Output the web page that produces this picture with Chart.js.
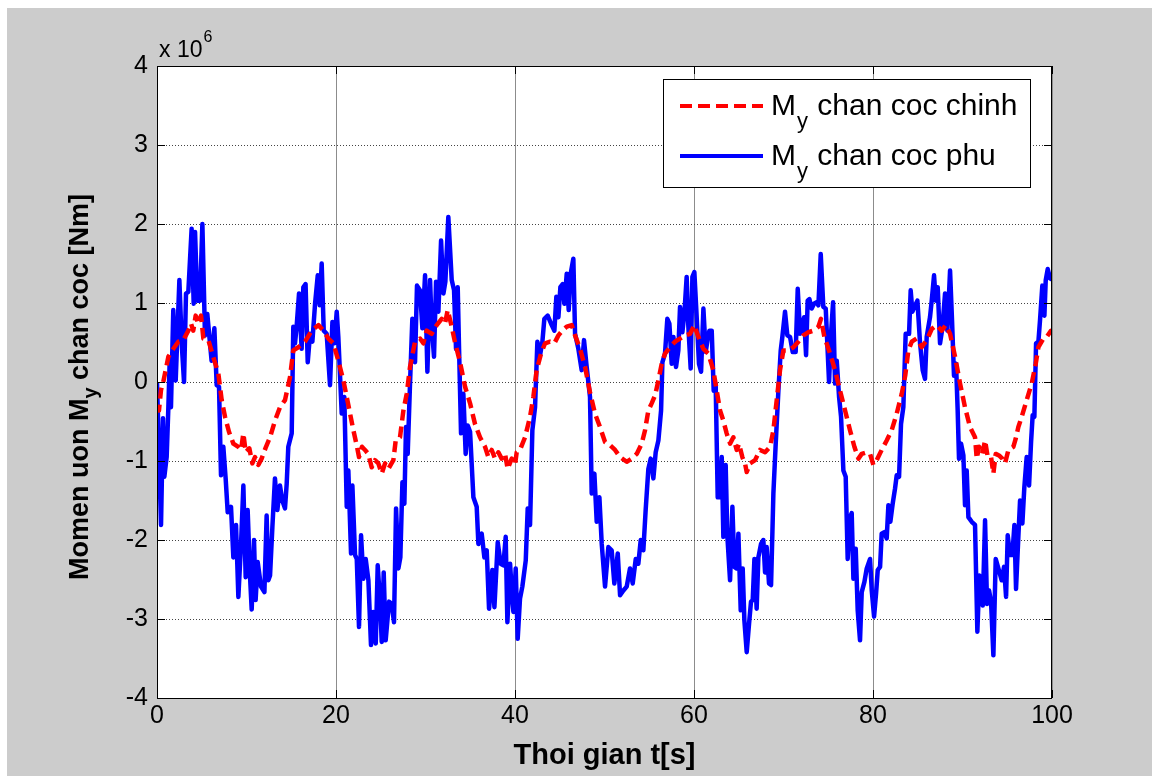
<!DOCTYPE html>
<html>
<head>
<meta charset="utf-8">
<script src="https://cdn.jsdelivr.net/npm/chart.js@4.4.1/dist/chart.umd.min.js"></script>
<style>
  html, body { margin: 0; padding: 0; background: #fff; }
  #wrap { width: 1159px; height: 776px; }
</style>
</head>
<body>
<div id="wrap"><canvas id="momentChart" width="1159" height="776"></canvas></div>
<script>
// thoi gian [s], moment [x 10^6 Nm]
const chinhPoints = [
  [0,-0.3],[0.22,-0.36],[0.45,-0.1],[0.7,0.0],[1.27,0.32],[1.82,0.42],[2.38,0.51],[2.94,0.53],[3.5,0.65],[3.8,0.74],
  [4.05,0.65],[4.32,0.84],[4.6,0.74],[4.92,0.84],[5.18,0.55],[5.74,0.53],[6.41,0.27],[6.85,0.11],[7.23,-0.23],[7.6,-0.44],
  [8.04,-0.63],[8.53,-0.78],[9.09,-0.82],[9.39,-0.86],[9.65,-0.65],[9.91,-0.89],[10.32,-0.84],[10.65,-1.03],[10.95,-0.95],[11.32,-1.05],
  [11.69,-0.97],[12.18,-0.82],[12.63,-0.7],[13.18,-0.49],[13.74,-0.32],[14.3,-0.23],[14.86,0.06],[15.23,0.4],[15.79,0.44],[16.35,0.49],
  [16.54,0.51],[17.28,0.65],[18.03,0.72],[18.59,0.65],[19.15,0.55],[19.7,0.49],[20.26,0.27],[20.82,0.02],[21.2,-0.19],[21.57,-0.4],
  [21.94,-0.61],[22.31,-0.8],[22.57,-0.95],[22.9,-0.82],[23.24,-0.86],[23.6,-0.91],[23.99,-1.08],[24.36,-0.99],[24.73,-1.03],[25.11,-1.16],
  [25.48,-1.03],[25.85,-1.1],[26.41,-0.99],[26.67,-0.74],[27.15,-0.7],[27.53,-0.36],[27.9,-0.15],[28.27,0.19],[28.83,0.51],[29.39,0.55],
  [29.76,0.49],[30.13,0.65],[30.69,0.61],[31.25,0.72],[31.81,0.8],[32.18,0.74],[32.48,0.91],[32.93,0.7],[33.3,0.5],[33.86,0.25],
  [34.42,-0.06],[34.98,-0.27],[35.53,-0.53],[36.09,-0.7],[36.65,-0.82],[37.02,-0.95],[37.4,-0.86],[37.77,-0.97],[38.14,-0.89],[38.51,-0.97],
  [38.89,-0.91],[39.18,-1.1],[39.63,-0.97],[40.0,-1.05],[40.19,-0.89],[40.56,-0.86],[41.12,-0.7],[41.68,-0.44],[42.05,-0.19],[42.42,0.15],
  [42.91,0.36],[43.36,0.49],[43.91,0.51],[44.4,0.49],[44.85,0.59],[45.29,0.65],[45.78,0.7],[46.34,0.72],[46.71,0.59],[47.27,0.42],
  [47.83,0.19],[48.38,-0.13],[48.94,-0.4],[49.5,-0.57],[50.06,-0.76],[50.62,-0.8],[51.18,-0.86],[51.74,-0.95],[52.48,-1.01],[53.04,-0.97],
  [53.6,-0.91],[54.16,-0.78],[54.53,-0.61],[54.9,-0.36],[55.27,-0.27],[55.65,-0.17],[56.02,0.02],[56.39,0.23],[56.76,0.36],[57.32,0.44],
  [57.88,0.51],[58.44,0.55],[59.0,0.59],[59.56,0.61],[60.04,0.72],[60.49,0.57],[61.05,0.42],[61.6,0.36],[62.16,0.15],[62.54,-0.11],
  [62.91,-0.36],[63.28,-0.49],[63.65,-0.65],[64.03,-0.78],[64.4,-0.7],[64.77,-0.86],[65.03,-0.78],[65.4,-0.95],[65.7,-1.03],[65.89,-1.14],
  [66.26,-1.03],[66.82,-0.99],[67.38,-0.86],[67.94,-0.89],[68.5,-0.82],[68.87,-0.61],[69.24,-0.23],[69.61,0.15],[69.99,0.4],[70.54,0.4],
  [71.1,0.44],[71.66,0.51],[72.22,0.59],[72.78,0.63],[73.34,0.65],[73.9,0.7],[74.19,0.8],[74.57,0.57],[75.2,0.36],[75.76,0.15],
  [76.32,-0.11],[76.88,-0.36],[77.43,-0.61],[77.92,-0.82],[78.37,-0.97],[78.74,-0.91],[79.3,-0.89],[79.67,-0.91],[80.04,-1.05],[80.41,-0.99],
  [80.97,-0.86],[81.53,-0.74],[82.09,-0.61],[82.65,-0.4],[83.21,-0.15],[83.6,0.08],[83.95,0.4],[84.33,0.51],[84.88,0.55],[85.44,0.44],
  [86.0,0.53],[86.56,0.67],[87.12,0.72],[87.68,0.65],[88.12,0.72],[88.61,0.61],[89.17,0.32],[89.73,-0.02],[90.28,-0.32],[90.84,-0.57],
  [91.4,-0.7],[91.59,-0.97],[91.85,-0.82],[92.22,-0.91],[92.52,-0.74],[92.82,-0.95],[93.19,-0.95],[93.45,-1.16],[93.71,-0.91],[94.08,-0.93],
  [94.45,-0.97],[94.75,-1.03],[95.13,-0.86],[95.68,-0.82],[95.94,-0.72],[96.24,-0.57],[96.62,-0.44],[97.17,-0.23],[97.73,-0.02],[98.18,0.23],
  [98.48,0.44],[99.04,0.55],[99.41,0.57],[99.9,0.65],[100,0.65]
];

const phuPoints = [
  [0,0.0],[0.45,-1.81],[0.67,-0.46],[0.82,-1.2],[1.08,-0.95],[1.27,-0.32],[1.42,0.27],[1.56,-0.32],[1.82,0.91],[2.09,0.02],
  [2.5,1.29],[2.76,0.49],[3.02,0.0],[3.24,1.12],[3.5,1.14],[3.87,1.94],[4.1,0.99],[4.25,1.9],[4.5,1.03],[4.8,1.03],
  [5.07,2.0],[5.36,0.59],[5.62,0.86],[6.1,0.27],[6.41,0.68],[6.67,-0.04],[6.93,-0.06],[7.15,-1.18],[7.41,-0.82],[7.67,-1.22],
  [7.9,-1.65],[8.27,-1.58],[8.53,-2.22],[8.83,-1.81],[9.09,-2.72],[9.39,-2.05],[9.65,-1.31],[9.91,-2.47],[10.13,-1.62],[10.39,-2.45],
  [10.58,-2.88],[10.84,-2.0],[11.02,-2.76],[11.25,-2.28],[11.62,-2.59],[12.0,-2.66],[12.25,-1.69],[12.44,-2.51],[12.63,-2.45],[12.89,-1.84],
  [13.18,-1.22],[13.45,-1.62],[13.74,-1.31],[14.0,-1.5],[14.3,-1.6],[14.49,-1.29],[14.67,-0.82],[15.05,-0.65],[15.23,0.7],[15.42,0.49],
  [15.6,0.7],[15.87,1.12],[16.16,0.42],[16.35,1.2],[16.6,1.24],[16.84,0.25],[17.1,0.61],[17.36,0.51],[17.66,0.99],[17.96,1.35],
  [18.18,0.97],[18.4,1.5],[18.63,0.65],[18.96,0.61],[19.33,-0.04],[19.6,0.76],[19.82,0.49],[20.08,0.89],[20.26,0.57],[20.64,-0.4],
  [20.93,-0.19],[21.2,-1.58],[21.38,-1.12],[21.68,-2.17],[21.83,-1.31],[22.13,-2.19],[22.32,-2.24],[22.57,-3.1],[22.8,-1.94],[23.06,-2.49],
  [23.32,-2.24],[23.62,-2.51],[23.91,-3.33],[24.17,-2.91],[24.44,-3.31],[24.66,-2.32],[24.92,-2.78],[25.11,-3.29],[25.33,-2.41],[25.55,-3.27],
  [25.93,-2.78],[26.22,-2.81],[26.48,-3.04],[26.71,-1.6],[26.97,-2.36],[27.19,-2.22],[27.42,-1.27],[27.64,-1.54],[27.82,-0.57],[28.01,-0.91],
  [28.27,-0.02],[28.53,0.8],[28.83,0.25],[29.05,1.22],[29.39,1.16],[29.65,0.68],[29.95,1.35],[30.21,0.13],[30.51,1.29],[30.69,0.72],
  [30.95,0.32],[31.18,1.27],[31.44,0.89],[31.74,1.79],[32.0,1.12],[32.22,1.27],[32.55,2.09],[32.93,1.29],[33.19,1.16],[33.41,0.42],
  [33.6,1.2],[33.75,0.42],[33.97,-0.65],[34.23,-0.15],[34.49,-0.91],[34.72,-0.55],[34.98,-0.63],[35.35,-1.46],[35.72,-1.58],[35.91,-2.05],
  [36.28,-1.92],[36.58,-2.22],[36.84,-2.13],[37.1,-2.87],[37.47,-2.38],[37.7,-2.85],[38.07,-2.03],[38.4,-2.3],[38.7,-2.32],[38.96,-1.96],
  [39.15,-3.04],[39.45,-2.3],[39.63,-2.64],[39.82,-2.91],[40.08,-2.36],[40.3,-3.25],[40.56,-2.74],[40.82,-2.59],[41.2,-2.26],[41.42,-1.6],
  [41.68,-1.81],[41.94,-0.61],[42.24,-0.32],[42.5,0.51],[42.8,0.34],[43.06,0.51],[43.28,0.8],[43.65,0.84],[44.1,0.72],[44.4,0.65],
  [44.62,1.08],[44.85,0.82],[45.07,1.2],[45.33,1.24],[45.52,0.99],[45.78,1.37],[46.0,0.91],[46.22,1.37],[46.52,1.56],[46.71,0.61],
  [47.08,0.42],[47.45,0.15],[47.71,0.53],[48.01,0.19],[48.38,-0.19],[48.57,-1.41],[48.87,-1.16],[49.13,-1.77],[49.43,-1.46],[49.69,-2.05],
  [50.06,-2.59],[50.43,-2.09],[50.8,-2.13],[51.1,-2.55],[51.48,-2.17],[51.74,-2.7],[52.11,-2.64],[52.48,-2.59],[52.85,-2.36],[53.15,-2.55],
  [53.49,-2.24],[53.78,-2.3],[54.05,-2.0],[54.34,-2.13],[54.6,-1.62],[54.9,-1.1],[55.16,-0.97],[55.46,-1.22],[55.72,-0.89],[56.02,-0.74],
  [56.32,-0.36],[56.47,0.25],[56.76,0.36],[57.02,0.8],[57.25,0.74],[57.51,0.23],[57.7,0.57],[57.99,0.19],[58.25,0.4],[58.44,0.95],
  [58.7,0.63],[58.92,0.86],[59.18,1.33],[59.37,0.7],[59.63,0.17],[59.82,1.33],[60.04,1.39],[60.3,0.82],[60.56,0.23],[60.79,0.13],
  [61.05,0.93],[61.31,0.38],[61.53,0.55],[61.72,0.65],[61.98,0.65],[62.2,-0.11],[62.42,-0.02],[62.65,-1.46],[62.91,-1.46],[63.1,-0.95],
  [63.28,-1.96],[63.54,-1.05],[63.73,-1.96],[64.03,-2.51],[64.29,-1.58],[64.51,-2.34],[64.75,-2.36],[64.96,-1.92],[65.22,-2.89],[65.44,-2.36],
  [65.63,-3.02],[65.89,-3.42],[66.15,-3.06],[66.37,-2.78],[66.56,-2.76],[66.75,-2.24],[67.0,-2.87],[67.19,-2.22],[67.49,-2.05],[67.75,-2.0],
  [67.94,-2.41],[68.12,-2.09],[68.38,-2.55],[68.61,-2.57],[68.87,-1.41],[69.13,-0.78],[69.43,-0.11],[69.69,0.4],[69.87,0.57],[70.17,0.89],
  [70.43,0.59],[70.73,0.57],[71.03,0.38],[71.36,0.38],[71.59,1.18],[71.85,0.61],[72.03,0.7],[72.3,0.82],[72.52,0.34],[72.7,1.03],
  [72.89,1.05],[73.15,0.93],[73.41,0.99],[73.71,1.01],[73.9,0.97],[74.16,1.62],[74.45,0.95],[74.72,0.93],[75.09,0.0],[75.31,0.61],
  [75.54,1.01],[75.76,-0.02],[75.95,0.27],[76.21,-0.19],[76.43,-0.44],[76.69,-1.12],[76.95,-1.2],[77.17,-2.24],[77.43,-1.71],[77.62,-1.66],
  [77.81,-2.49],[78.07,-2.11],[78.29,-2.89],[78.55,-3.27],[78.74,-2.66],[79.04,-2.53],[79.3,-2.36],[79.67,-2.24],[79.86,-2.64],[80.12,-2.97],
  [80.34,-2.68],[80.53,-2.38],[80.79,-2.34],[80.97,-1.92],[81.27,-1.9],[81.53,-1.98],[81.72,-1.56],[81.94,-1.77],[82.2,-1.54],[82.46,-1.35],
  [82.65,-1.18],[82.91,-1.2],[83.13,-0.53],[83.39,-0.32],[83.65,0.61],[83.88,0.61],[84.03,0.61],[84.21,1.16],[84.4,0.89],[84.7,0.97],
  [84.96,1.03],[85.26,0.49],[85.55,0.15],[85.81,0.04],[86.0,0.57],[86.37,0.82],[86.56,1.03],[86.82,1.35],[87.01,1.03],[87.23,1.2],
  [87.49,0.49],[87.75,0.68],[88.05,1.12],[88.31,0.65],[88.61,1.41],[88.83,0.78],[89.05,0.08],[89.28,0.23],[89.46,-0.36],[89.61,-0.97],
  [89.84,-0.78],[90.1,-0.93],[90.28,-1.56],[90.47,-1.12],[90.66,-1.71],[91.03,-1.77],[91.4,-1.81],[91.66,-3.16],[91.89,-2.45],[92.07,-2.51],
  [92.26,-2.83],[92.52,-1.75],[92.74,-2.81],[92.97,-2.64],[93.19,-2.78],[93.45,-3.46],[93.71,-2.24],[94.01,-2.36],[94.38,-2.51],[94.64,-2.34],
  [94.87,-2.72],[95.05,-1.94],[95.31,-2.19],[95.57,-2.19],[95.8,-1.81],[95.98,-2.62],[96.24,-1.96],[96.43,-1.5],[96.69,-1.79],[96.91,-1.33],
  [97.17,-0.95],[97.44,-1.31],[97.66,-0.76],[97.84,-0.42],[98.03,-0.44],[98.22,0.49],[98.48,0.51],[98.66,0.78],[98.92,1.22],[99.15,0.84],
  [99.3,1.29],[99.52,1.43],[99.78,1.31],[100,1.3]
];

const xTicks = [0, 20, 40, 60, 80, 100];
const yTicks = [-4, -3, -2, -1, 0, 1, 2, 3, 4];
const seriesNames = ['chan coc chinh', 'chan coc phu'];
const FONT = '"Liberation Sans", Arial, Helvetica, sans-serif';

// MATLAB-like frame, inward ticks, legend and labels
const matlabLook = {
  id: 'matlabLook',
  beforeDraw(chart) {
    const { ctx, chartArea: a } = chart;
    ctx.save();
    ctx.fillStyle = '#ffffff';
    ctx.fillRect(0, 0, chart.width, chart.height);
    ctx.fillStyle = '#cccccc';
    ctx.fillRect(7, 8, chart.width - 14, chart.height - 8);
    ctx.fillStyle = '#ffffff';
    ctx.fillRect(a.left, a.top, a.right - a.left, a.bottom - a.top);
    ctx.restore();
  },
  afterDraw(chart) {
    const { ctx, chartArea: a, scales } = chart;
    ctx.save();
    // frame
    ctx.strokeStyle = '#000';
    ctx.lineWidth = 1;
    ctx.strokeRect(a.left + 0.5, a.top + 0.5, a.right - a.left - 1, a.bottom - a.top);
    // ticks
    ctx.beginPath();
    xTicks.forEach(t => {
      const x = Math.round(scales.x.getPixelForValue(t)) + 0.5;
      ctx.moveTo(x, a.bottom); ctx.lineTo(x, a.bottom - 8);
      ctx.moveTo(x, a.top); ctx.lineTo(x, a.top + 8);
    });
    yTicks.forEach(t => {
      const y = Math.round(scales.y.getPixelForValue(t)) + 0.5;
      ctx.moveTo(a.left, y); ctx.lineTo(a.left + 8, y);
      ctx.moveTo(a.right, y); ctx.lineTo(a.right - 8, y);
    });
    ctx.stroke();

    ctx.fillStyle = '#000';
    // exponent
    ctx.textBaseline = 'alphabetic';
    ctx.textAlign = 'left';
    ctx.font = '23px ' + FONT;
    ctx.fillText('x 10', 159, 57);
    const w10 = ctx.measureText('x 10').width;
    ctx.font = '16px ' + FONT;
    ctx.fillText('6', 159 + w10 + 1, 42);

    // x title
    ctx.font = 'bold 29px ' + FONT;
    ctx.textAlign = 'center';
    ctx.fillText('Thoi gian t[s]', (a.left + a.right) / 2, 764);

    // y title with subscript
    ctx.save();
    ctx.translate(88, (a.top + a.bottom) / 2 + 5);
    ctx.rotate(-Math.PI / 2);
    const p1 = 'Momen uon M', p2 = 'y', p3 = ' chan coc [Nm]';
    ctx.font = 'bold 27px ' + FONT;
    const w1 = ctx.measureText(p1).width, w3 = ctx.measureText(p3).width;
    ctx.font = 'bold 20px ' + FONT;
    const w2 = ctx.measureText(p2).width;
    const x0 = -(w1 + w2 + w3) / 2;
    ctx.textAlign = 'left';
    ctx.font = 'bold 27px ' + FONT;
    ctx.fillText(p1, x0, 0);
    ctx.font = 'bold 20px ' + FONT;
    ctx.fillText(p2, x0 + w1, 9);
    ctx.font = 'bold 27px ' + FONT;
    ctx.fillText(p3, x0 + w1 + w2, 0);
    ctx.restore();

    // legend
    const lx = 663, ly = 79, lw = 367, lh = 108;
    ctx.fillStyle = '#fff';
    ctx.fillRect(lx, ly, lw, lh);
    ctx.strokeStyle = '#000';
    ctx.lineWidth = 1;
    ctx.strokeRect(lx + 0.5, ly + 0.5, lw, lh);
    ctx.textAlign = 'left';
    const rows = [
      { y: 106, color: '#ff0000', dash: [12, 6], name: seriesNames[0] },
      { y: 156, color: '#0000ff', dash: [], name: seriesNames[1] }
    ];
    rows.forEach(r => {
      ctx.beginPath();
      ctx.setLineDash(r.dash);
      ctx.strokeStyle = r.color;
      ctx.lineWidth = 4;
      ctx.moveTo(680, r.y); ctx.lineTo(763, r.y);
      ctx.stroke();
      ctx.setLineDash([]);
      ctx.fillStyle = '#000';
      ctx.font = '30px ' + FONT;
      ctx.fillText('M', 771, r.y + 9);
      const wm = ctx.measureText('M').width;
      ctx.font = '22px ' + FONT;
      ctx.fillText('y', 771 + wm + 1, r.y + 22);
      const wy = ctx.measureText('y').width;
      ctx.font = '30px ' + FONT;
      ctx.fillText(' ' + r.name, 771 + wm + wy + 2, r.y + 9);
    });
    ctx.restore();
  }
};

new Chart(document.getElementById('momentChart').getContext('2d'), {
  type: 'line',
  data: {
    datasets: [
      {
        label: 'My ' + seriesNames[0],
        data: chinhPoints.map(([t, v]) => ({ x: t, y: v })),
        borderColor: '#ff0000',
        borderWidth: 4.5,
        borderDash: [11, 6],
        borderJoinStyle: 'round',
        pointRadius: 0,
        fill: false,
        tension: 0
      },
      {
        label: 'My ' + seriesNames[1],
        data: phuPoints.map(([t, v]) => ({ x: t, y: v })),
        borderColor: '#0000ff',
        borderWidth: 4.5,
        borderJoinStyle: 'round',
        pointRadius: 0,
        fill: false,
        tension: 0
      }
    ]
  },
  options: {
    responsive: false,
    animation: false,
    devicePixelRatio: 1,
    layout: { padding: { left: 0, top: 66, right: 107, bottom: 0 } },
    plugins: { legend: { display: false }, tooltip: { enabled: false } },
    scales: {
      x: {
        type: 'linear',
        min: 0,
        max: 100,
        afterFit(scale) { scale.height = 78; },
        afterBuildTicks(scale) { scale.ticks = xTicks.map(v => ({ value: v })); },
        ticks: { color: '#000', font: { family: FONT, size: 25 }, padding: 3, maxRotation: 0 },
        grid: { color: '#8c8c8c', lineWidth: 1, drawTicks: false },
        border: { display: false }
      },
      y: {
        type: 'linear',
        min: -4,
        max: 4,
        afterFit(scale) { scale.width = 157; },
        afterBuildTicks(scale) { scale.ticks = yTicks.map(v => ({ value: v })); },
        ticks: { color: '#000', font: { family: FONT, size: 25 }, padding: 9 },
        grid: { color: '#444', lineWidth: 1, drawTicks: false },
        border: { display: false, dash: [1, 2] }
      }
    }
  },
  plugins: [matlabLook]
});
</script>
</body>
</html>
